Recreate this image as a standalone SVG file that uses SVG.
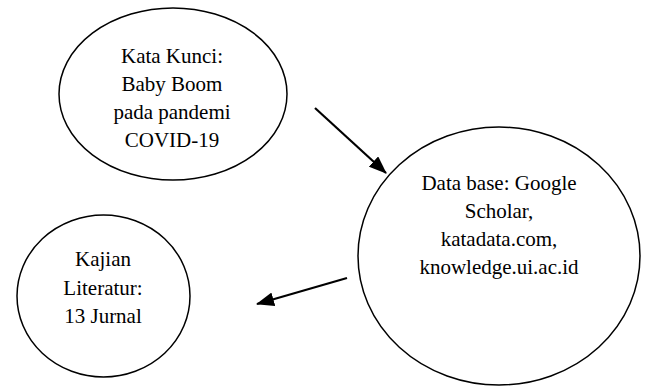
<svg xmlns="http://www.w3.org/2000/svg" width="648" height="388" viewBox="0 0 648 388">
<defs>
<style>
.node ellipse{fill:#fff;stroke:#000;stroke-width:1.5}
.node text{font-family:"Liberation Serif","Times New Roman",serif;font-size:21px;fill:#000;text-anchor:middle}
.conn line{stroke:#000;stroke-width:2.2}
</style>
<marker id="ah" markerUnits="userSpaceOnUse" markerWidth="18" markerHeight="14" refX="17" refY="7" orient="auto">
<path d="M0,0 L18,7 L0,14 Z" fill="#000"/>
</marker>
</defs>
<rect width="648" height="388" fill="#fff"/>
<g id="n1" class="node">
<ellipse cx="173" cy="94" rx="114" ry="86"/>
<text x="172" y="63">Kata Kunci:</text>
<text x="172" y="91">Baby Boom</text>
<text x="172" y="119">pada pandemi</text>
<text x="172" y="147">COVID-19</text>
</g>
<g id="n2" class="node">
<ellipse cx="499" cy="256" rx="141" ry="129"/>
<text x="499" y="190">Data base: Google</text>
<text x="499" y="218">Scholar,</text>
<text x="499" y="246">katadata.com,</text>
<text x="499" y="274">knowledge.ui.ac.id</text>
</g>
<g id="n3" class="node">
<ellipse cx="103.5" cy="296" rx="86.5" ry="81"/>
<text x="103" y="266">Kajian</text>
<text x="103" y="295">Literatur:</text>
<text x="103" y="323">13 Jurnal</text>
</g>
<g id="connectors" class="conn">
<line x1="315" y1="108" x2="386" y2="173" marker-end="url(#ah)"/>
<line x1="347" y1="278" x2="257" y2="304" marker-end="url(#ah)"/>
</g>
</svg>
